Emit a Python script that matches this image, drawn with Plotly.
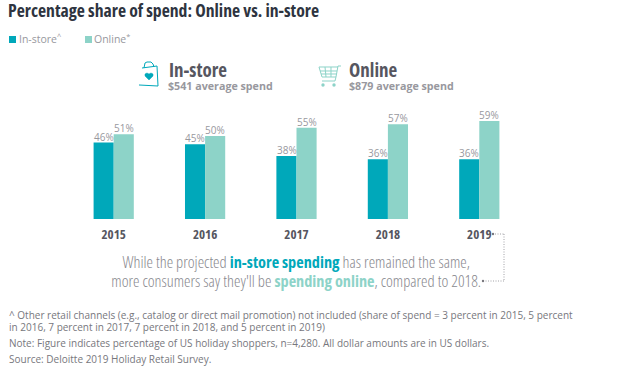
import plotly.graph_objects as go

W, H = 626, 371
years = ["2015", "2016", "2017", "2018", "2019"]
in_store = [46, 45, 38, 36, 36]
online = [51, 50, 55, 57, 59]
TEAL = "#00A8BA"
MINT = "#8DD3C8"
GREY = "#98989E"
CALLOUT = "#88888E"
DARK = "#565660"
NAVY = "#2E3440"
NARROW = "Open Sans, Condensed"
OPEN = "Open Sans"

L, R, T, B = 68, 101, 119, 152

def px(x):
    return x / W

def py(y):
    return 1 - y / H

fig = go.Figure()
for name, vals, col in [("In-store", in_store, TEAL), ("Online", online, MINT)]:
    fig.add_bar(x=years, y=vals, name=name, marker=dict(color=col, line=dict(width=0)), cliponaxis=False)

for vals, shift in [(in_store, -10), (online, 10)]:
    for i, v in enumerate(vals):
        fig.add_annotation(xref="x", yref="y", x=i, y=v, text=f"{v}%", showarrow=False, xshift=shift, yshift=6,
                           yanchor="middle", font=dict(family=OPEN, size=10, color=GREY))

def note(x, y, text, size, color, family=OPEN, anchor="left", weight=None):
    fig.add_annotation(xref="paper", yref="paper", x=px(x - 2 if anchor == "left" else x), y=py(y), text=text,
                       showarrow=False, xanchor=anchor, yanchor="middle", align=anchor,
                       font=dict(family=family, size=size, color=color, weight=weight))

note(8, 10, "<b>Percentage share of spend: Online vs. in-store</b>", 17.7, NAVY, NARROW)
note(19, 39, "In-store<sup>^</sup>", 10.5, GREY)
note(94, 39, "Online<sup>*</sup>", 10.5, GREY)
note(169, 70, "<b>In-store</b>", 19, DARK, NARROW)
note(168, 86, "<b>$541 average spend</b>", 10.7, GREY)
note(349, 70, "<b>Online</b>", 19, DARK, NARROW)
note(349, 86, "<b>$879 average spend</b>", 10.7, GREY)
note(295.5, 262, f'While the projected <b><span style="color:{TEAL}">in-store spending</span></b> has remained the same,', 16.3, CALLOUT, NARROW, "center", 300)
note(295.5, 281, f'more consumers say they\'ll be <b><span style="color:{MINT}">spending online</span></b>, compared to 2018.', 16.3, CALLOUT, NARROW, "center", 300)
FOOT = "#77777D"
note(9, 315, "^ Other retail channels (e.g., catalog or direct mail promotion) not included (share of spend = 3 percent in 2015, 5 percent", 10, FOOT)
note(9, 327, "in 2016, 7 percent in 2017, 7 percent in 2018, and 5 percent in 2019)", 10, FOOT)
note(9, 343, "Note: Figure indicates percentage of US holiday shoppers, n=4,280. All dollar amounts are in US dollars.", 10, FOOT)
note(9, 359, "Source: Deloitte 2019 Holiday Retail Survey.", 10, FOOT)

shapes = []

def seg(x0, y0, x1, y1, color, width=1, dash="solid"):
    shapes.append(dict(type="line", xref="paper", yref="paper", x0=px(x0), y0=py(y0), x1=px(x1), y1=py(y1),
                       line=dict(color=color, width=width, dash=dash)))

def blob(cx, cy, r, color):
    shapes.append(dict(type="circle", xref="paper", yref="paper", x0=px(cx - r), x1=px(cx + r),
                       y0=py(cy - r), y1=py(cy + r), fillcolor=color, line=dict(width=0)))

def square(x0, y0, x1, y1, color):
    shapes.append(dict(type="rect", xref="paper", yref="paper", x0=px(x0), x1=px(x1),
                       y0=py(y0), y1=py(y1), fillcolor=color, line=dict(width=0)))

def path(points, color, width=1, fill=None, close=False):
    d = "M" + " L".join(f"{px(a):.5f},{py(b):.5f}" for a, b in points) + (" Z" if close else "")
    shapes.append(dict(type="path", xref="paper", yref="paper", path=d,
                       line=dict(color=color, width=width), fillcolor=fill or "rgba(0,0,0,0)"))

square(9, 36, 16, 43, TEAL)
square(85, 36, 92, 43, MINT)

# connector
DOT = "1px,1.5px"
for a in [(495, 234, 504, 234), (504, 234, 504, 281), (504, 281, 485, 281)]:
    seg(*a, "#8A8A90", 0.8, DOT)
blob(493, 234, 1.2, "#77777D")
blob(483, 281, 1.2, "#77777D")

# bag icon
path([(142, 68), (157, 66), (158, 86), (139, 85)], TEAL, 1)
path([(144, 68), (145, 63), (147, 62), (151, 62), (153, 64), (154, 67)], TEAL, 1)
path([(145, 74), (147, 73), (149, 74), (151, 73), (153, 74), (153, 76), (149, 80), (145, 76)], TEAL, 0.5, TEAL, True)
# cart icon
path([(341, 66), (338, 66), (336, 77), (322, 77), (319, 67), (338, 67)], MINT, 1)
path([(320, 71), (337, 71)], MINT, 1)
path([(321, 74), (337, 74)], MINT, 1)
path([(325, 67), (326, 77)], MINT, 1)
path([(331, 67), (331, 77)], MINT, 1)
path([(336, 77), (335, 81), (322, 81)], MINT, 1)
blob(323, 85, 1.7, MINT)
blob(334, 85, 1.7, MINT)

fig.update_layout(
    width=W, height=H, autosize=False, margin=dict(l=0, r=0, t=0, b=0),
    paper_bgcolor="white", plot_bgcolor="rgba(0,0,0,0)", barmode="group", bargap=0.56, bargroupgap=0,
    showlegend=False, shapes=shapes,
    xaxis=dict(type="category", range=[-0.5, 4.5], showgrid=False, showline=False, ticks="", zeroline=False,
               domain=[L / W, 1 - R / W],
               tickfont=dict(family=NARROW, size=13, color=DARK, weight="bold"), ticklabelstandoff=6),
    yaxis=dict(range=[0, 60.2], visible=False, showgrid=False, zeroline=False,
               domain=[B / H, 1 - T / H]),
)
post = """
document.body.style.margin = '0';
document.querySelectorAll('svg text').forEach(function (t) {
  if ((t.style.fontFamily || '').indexOf('Condensed') >= 0) { t.style.fontStretch = '75%'; }
});
"""
fig.write_html("out.html", post_script=post, config=dict(displayModeBar=False))
